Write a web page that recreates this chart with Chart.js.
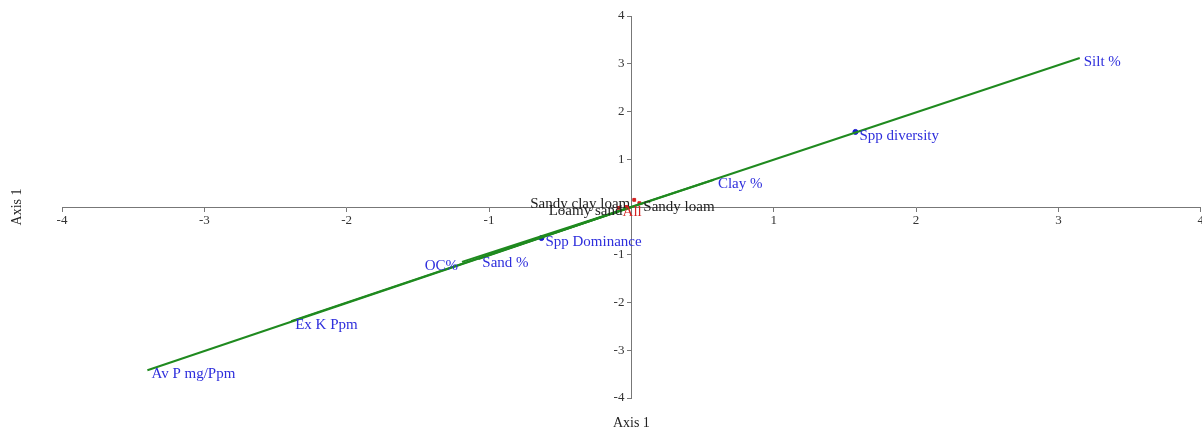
<!DOCTYPE html>
<html>
<head>
<meta charset="utf-8">
<script src="https://cdn.jsdelivr.net/npm/chart.js@4/dist/chart.umd.min.js"></script>
<style>
  html, body { margin: 0; padding: 0; background: #fff; overflow: hidden; }
  #wrap { width: 1206px; height: 429px; }
</style>
</head>
<body>
<div id="wrap"><canvas id="chart"></canvas></div>
<script>
// Variables (drawn as vectors from the origin)
const varNames = ['Av P mg/Ppm', 'Ex K Ppm', 'OC%', 'Sand %', 'Clay %', 'Silt %'];
const varX = [-3.40, -2.39, -1.19, -1.075, 0.58, 3.15];
const varY = [-3.42, -2.39, -1.15, -1.09, 0.57, 3.12];

// Species indices (blue dots)
const sppNames = ['Spp diversity', 'Spp Dominance'];
const sppX = [1.574, -0.632];
const sppY = [1.572, -0.65];

// Soil texture samples (red squares near the origin)
const sampleNames = ['Sandy clay loam', 'Loamy sand', 'Sandy loam'];
const sampleX = [0.02, -0.035, 0.056];
const sampleY = [0.15, 0.0, 0.08];
const groupNames = ['All'];
const groupX = [-0.09];
const groupY = [-0.02];

const xTicks = [-4, -3, -2, -1, 0, 1, 2, 3, 4];
const yTicks = [-4, -3, -2, -1, 0, 1, 2, 3, 4];

const leftLabelled = ['OC%', 'Sandy clay loam', 'Loamy sand'];
const serif = '"Liberation Serif", "DejaVu Serif", serif';

function toPoints(xs, ys) {
    return xs.map((x, i) => ({ x: x, y: ys[i] }));
}

const datasets = [];

// one vector per variable
varNames.forEach((name, i) => {
    datasets.push({
        type: 'line',
        data: [{ x: 0, y: 0 }, { x: varX[i], y: varY[i] }],
        borderColor: '#1f8a1f',
        borderWidth: 2,
        pointRadius: 0,
        labelColor: '#2e2edc',
        pointLabels: [null, name]
    });
});

datasets.push({
    type: 'scatter',
    data: toPoints(sppX, sppY),
    backgroundColor: '#1a1ad0',
    borderColor: '#1a1ad0',
    pointRadius: 2.5,
    labelColor: '#2e2edc',
    pointLabels: sppNames
});

datasets.push({
    type: 'scatter',
    data: toPoints(sampleX, sampleY),
    backgroundColor: '#d42020',
    borderColor: '#d42020',
    pointStyle: 'rect',
    pointRadius: 2,
    labelColor: '#222',
    pointLabels: sampleNames
});

datasets.push({
    type: 'scatter',
    data: toPoints(groupX, groupY),
    backgroundColor: '#d42020',
    borderColor: '#d42020',
    pointStyle: 'rect',
    pointRadius: 2,
    labelColor: '#d42020',
    pointLabels: groupNames
});

const labelPlugin = {
    id: 'pointLabels',
    afterDatasetsDraw(chart) {
        const ctx = chart.ctx;
        ctx.save();
        ctx.font = '15px ' + serif;
        ctx.textBaseline = 'middle';
        chart.data.datasets.forEach((ds, di) => {
            if (!ds.pointLabels) return;
            const meta = chart.getDatasetMeta(di);
            meta.data.forEach((pt, i) => {
                const txt = ds.pointLabels[i];
                if (!txt) return;
                ctx.fillStyle = ds.labelColor;
                if (leftLabelled.includes(txt)) {
                    ctx.textAlign = 'right';
                    ctx.fillText(txt, pt.x - 4, pt.y + 4);
                } else {
                    ctx.textAlign = 'left';
                    ctx.fillText(txt, pt.x + 4, pt.y + 4);
                }
            });
        });
        ctx.restore();
    }
};

// y tick labels: drawn left of the centred axis from the scale's own ticks
const yLabelPlugin = {
    id: 'yTickLabels',
    afterDraw(chart) {
        const ctx = chart.ctx;
        const ys = chart.scales.y;
        const x0 = chart.scales.x.getPixelForValue(0);
        ctx.save();
        ctx.font = '13px ' + serif;
        ctx.fillStyle = '#333';
        ctx.textAlign = 'right';
        ctx.textBaseline = 'middle';
        ys.ticks.forEach(t => {
            if (t.value === 0) return;
            ctx.fillText(String(t.value), x0 - 7, ys.getPixelForValue(t.value));
        });
        ctx.restore();
    }
};

const titlePlugin = {
    id: 'axisTitles',
    afterDraw(chart) {
        const ctx = chart.ctx;
        const area = chart.chartArea;
        ctx.save();
        ctx.font = '14px ' + serif;
        ctx.fillStyle = '#222';
        ctx.textAlign = 'center';
        ctx.textBaseline = 'middle';
        ctx.fillText('Axis 1', (area.left + area.right) / 2, 423);
        ctx.translate(17, (area.top + area.bottom) / 2);
        ctx.rotate(-Math.PI / 2);
        ctx.fillText('Axis 1', 0, 0);
        ctx.restore();
    }
};

function axisOpts(ticks, pos, showLabels) {
    return {
        type: 'linear',
        position: pos,
        min: ticks[0],
        max: ticks[ticks.length - 1],
        afterBuildTicks: (scale) => {
            scale.ticks = ticks.map(v => ({ value: v }));
        },
        grid: {
            drawOnChartArea: false,
            drawTicks: true,
            tickLength: 4,
            color: '#777'
        },
        border: { display: true, color: '#777', width: 1 },
        ticks: {
            display: showLabels,
            font: { family: serif, size: 13 },
            color: '#333',
            padding: 2,
            callback: (v) => (v === 0 ? '' : String(v))
        }
    };
}

new Chart(document.getElementById('chart'), {
    type: 'scatter',
    data: { datasets: datasets },
    options: {
        responsive: true,
        maintainAspectRatio: false,
        animation: false,
        layout: { padding: { left: 62, right: 2, top: 16, bottom: 31 } },
        plugins: {
            legend: { display: false },
            tooltip: { enabled: false }
        },
        scales: {
            x: axisOpts(xTicks, { y: 0 }, true),
            y: axisOpts(yTicks, { x: 0 }, false)
        }
    },
    plugins: [labelPlugin, yLabelPlugin, titlePlugin]
});
</script>
</body>
</html>
